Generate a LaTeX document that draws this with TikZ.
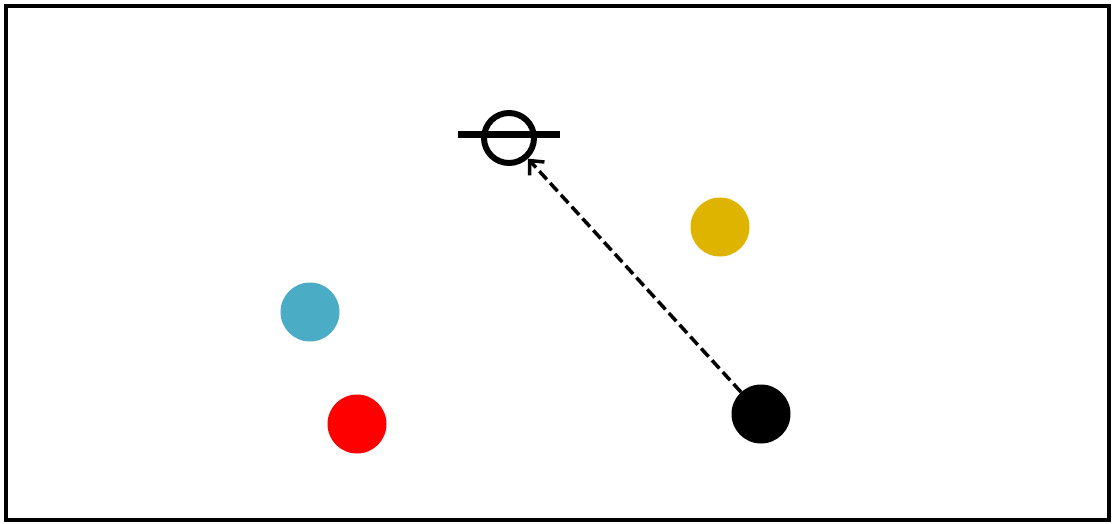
\documentclass[tikz,border=0pt]{standalone}
\usetikzlibrary{arrows.meta}
\definecolor{cyanc}{HTML}{4BACC6}
\definecolor{goldc}{HTML}{DFB400}
\definecolor{redc}{HTML}{FF0000}
\tikzset{
  dot/.style={circle, inner sep=0pt, minimum size=59pt},
  ring/.style={circle, draw=black, line width=6pt, inner sep=0pt, minimum size=50pt},
  link/.style={line width=3.5pt, dash pattern=on 11pt off 5pt, -{Straight Barb[length=11pt,width=20pt,line width=3.5pt]}},
}
\begin{document}
\begin{tikzpicture}[x=1pt,y=-1pt]
\useasboundingbox (0,0) rectangle (1112,524);
\draw[line width=3.5pt] (6,6) rectangle (1109,520);
\node[ring] (ring) at (509,138) {};
\coordinate (barL) at (458,135);
\coordinate (barR) at (560,135);
\draw[line width=7pt] (barL) -- (barR);
\node[dot, fill=cyanc] (cyan) at (310,312) {};
\node[dot, fill=redc] (red) at (357,424) {};
\node[dot, fill=goldc] (gold) at (720,227) {};
\node[dot, fill=black, minimum width=59pt, minimum height=58pt] (blk) at (761,414) {};
\draw[link] (blk) -- (ring);
\end{tikzpicture}
\end{document}
